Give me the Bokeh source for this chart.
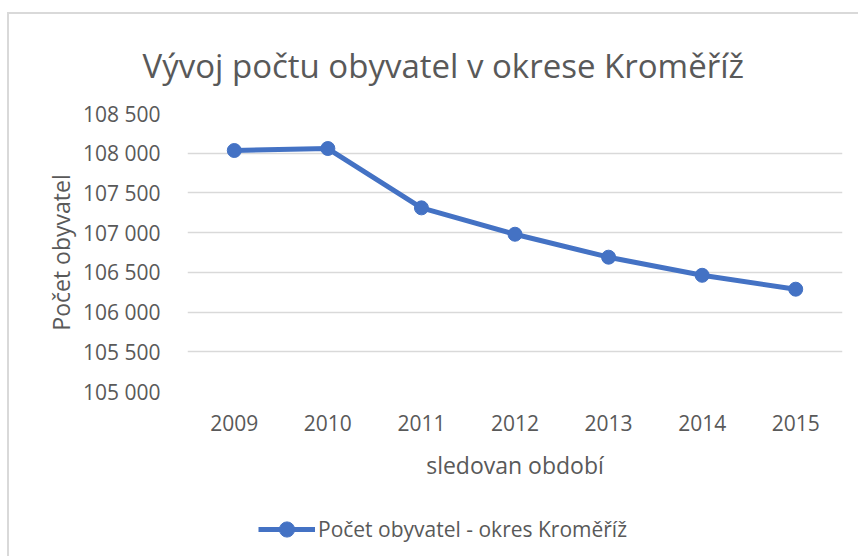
from bokeh.plotting import figure
from bokeh.layouts import column
from bokeh.models import Range1d, FactorRange, FixedTicker, Legend, LegendItem
from bokeh.embed import file_html
from bokeh.resources import INLINE

years = ["2009", "2010", "2011", "2012", "2013", "2014", "2015"]
population = [108034, 108059, 107312, 106980, 106691, 106463, 106288]
y_ticks = [105000, 105500, 106000, 106500, 107000, 107500, 108000, 108500]
y_tick_labels = ["105 000", "105 500", "106 000", "106 500", "107 000", "107 500", "108 000", "108 500"]

title_text = "Vývoj počtu obyvatel v okrese Kroměříž"
y_label = "Počet obyvatel"
x_label = "sledovan období"
legend_label = "Počet obyvatel - okres Kroměříž"

FONT = "Open Sans"
TXT = "#595959"
BLUE = "#4472C4"
BORDER = "2px solid #d9d9d9"

p = figure(
    width=851, height=482,
    x_range=FactorRange(*years, range_padding=0),
    y_range=Range1d(y_ticks[0], y_ticks[-1]),
    output_backend="svg", toolbar_location=None,
    min_border_left=178, min_border_right=18, min_border_top=98, min_border_bottom=105,
)
p.margin = (12, 0, 0, 7)
p.styles = {"border-top": BORDER, "border-left": BORDER}
p.outline_line_color = None
p.background_fill_color = "white"
p.border_fill_color = "white"

p.title.text = title_text
p.title.text_font = FONT
p.title.text_font_size = "33px"
p.title.text_font_style = "normal"
p.title.text_color = TXT
p.title.align = "left"
p.title.offset = -45
p.title.standoff = 52

line = p.line(years, population, line_color=BLUE, line_width=5)
pts = p.scatter(years, population, size=14, fill_color=BLUE, line_color=BLUE)

# axes
p.yaxis.ticker = FixedTicker(ticks=y_ticks)
p.yaxis.major_label_overrides = {t: l for t, l in zip(y_ticks, y_tick_labels)}
for ax in (p.xaxis[0], p.yaxis[0]):
    ax.axis_line_color = None
    ax.major_tick_line_color = None
    ax.minor_tick_line_color = None
    ax.major_label_text_font = FONT
    ax.major_label_text_font_size = "21px"
    ax.major_label_text_color = TXT
    ax.axis_label_text_font = FONT
    ax.axis_label_text_font_size = "23px"
    ax.axis_label_text_font_style = "normal"
    ax.axis_label_text_color = TXT
p.yaxis.axis_label = y_label
p.xaxis.axis_label = x_label
p.yaxis.major_label_standoff = 21
p.yaxis.axis_label_standoff = 3
p.xaxis.major_label_standoff = 17
p.xaxis.axis_label_standoff = 15

p.xgrid.grid_line_color = None
p.ygrid.grid_line_color = "#d9d9d9"
p.ygrid.grid_line_width = 1.5

# legend strip below the chart (same series, legend only)
lg = figure(
    width=851, height=62,
    x_range=FactorRange(*years, range_padding=0),
    y_range=Range1d(y_ticks[0], y_ticks[-1]),
    output_backend="svg", toolbar_location=None,
    x_axis_type=None, y_axis_type=None,
    min_border=0, min_border_left=0, min_border_right=0, min_border_top=0, min_border_bottom=0,
)
lg.margin = (0, 0, 0, 7)
lg.styles = {"border-left": BORDER}
lg.outline_line_color = None
lg.xgrid.visible = False
lg.ygrid.visible = False
lg_line = lg.line(years, population, line_color=BLUE, line_width=5, visible=False)
lg_pts = lg.scatter(years, population, size=14, fill_color=BLUE, line_color=BLUE, visible=False)

legend = Legend(
    items=[LegendItem(label=legend_label, renderers=[lg_line, lg_pts])],
    location=(71, 8),
    orientation="horizontal",
    glyph_width=57, glyph_height=38,
    label_text_font=FONT, label_text_font_size="21px", label_text_color=TXT,
    label_standoff=3, padding=0, margin=0, spacing=0,
    border_line_color=None, background_fill_alpha=0,
)
lg.add_layout(legend, "center")

layout = column(p, lg, spacing=0)
open("out.html", "w").write(file_html(layout, INLINE))
